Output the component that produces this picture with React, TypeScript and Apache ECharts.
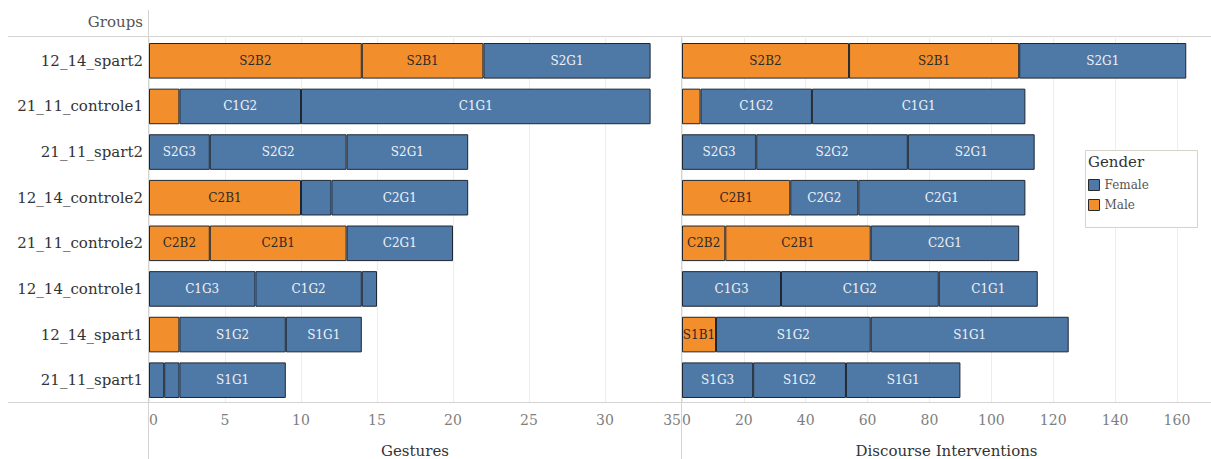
import React, { useEffect, useRef } from "react";
import * as echarts from "echarts";

// Groups (top to bottom)
const groups = [
  "12_14_spart2",
  "21_11_controle1",
  "21_11_spart2",
  "12_14_controle2",
  "21_11_controle2",
  "12_14_controle1",
  "12_14_spart1",
  "21_11_spart1",
];

// Student codes for each stacked segment, left to right (B = boy, G = girl)
const segmentNames = [
  ["S2B2", "S2B1", "S2G1"],
  ["C1B1", "C1G2", "C1G1"],
  ["S2G3", "S2G2", "S2G1"],
  ["C2B1", "C2G2", "C2G1"],
  ["C2B2", "C2B1", "C2G1"],
  ["C1G3", "C1G2", "C1G1"],
  ["S1B1", "S1G2", "S1G1"],
  ["S1G3", "S1G2", "S1G1"],
];

const gestures = [
  [14, 8, 11],
  [2, 8, 23],
  [4, 9, 8],
  [10, 2, 9],
  [4, 9, 7],
  [7, 7, 1],
  [2, 7, 5],
  [1, 1, 7],
];

const discourse = [
  [54, 55, 54],
  [6, 36, 69],
  [24, 49, 41],
  [35, 22, 54],
  [14, 47, 48],
  [32, 51, 32],
  [11, 50, 64],
  [23, 30, 37],
];

const panelTitles = ["Gestures", "Discourse Interventions"];
const panelMax = [35, 171];
const panelInterval = [5, 20];
// segments narrower than this (in axis units) stay unlabeled
const panelMinLabel = [3, 8];

const FEMALE = "#4e79a7";
const MALE = "#f28e2b";
const FONT = "DejaVu Serif";

const isMale = (code: string) => code.includes("B");

export default function App() {
  const ref = useRef<HTMLDivElement>(null);

  useEffect(() => {
    if (!ref.current) return;
    const chart = echarts.init(ref.current, null, { renderer: "svg" });

    const panels = [gestures, discourse];
    const series: any[] = [];
    panels.forEach((values, p) => {
      for (let s = 0; s < 3; s++) {
        series.push({
          type: "bar",
          xAxisIndex: p,
          yAxisIndex: p,
          stack: "panel" + p,
          barCategoryGap: "22%",
          data: groups.map((_, i) => {
            const code = segmentNames[i][s];
            const male = isMale(code);
            return {
              value: values[i][s],
              itemStyle: {
                color: male ? MALE : FEMALE,
                borderColor: "#1e2630",
                borderWidth: 1,
              },
              label: {
                show: values[i][s] >= panelMinLabel[p],
                color: male ? "#2a2a2a" : "#eef1f5",
              },
            };
          }),
          label: {
            position: "inside",
            fontFamily: FONT,
            fontSize: 12,
            formatter: (prm: any) => segmentNames[prm.dataIndex][s],
          },
        });
      }
    });

    // legend-only series, sharing the first stack so they take no bar slot
    series.push(
      { name: "Female", type: "bar", stack: "panel0", xAxisIndex: 0, yAxisIndex: 0, data: [], itemStyle: { color: FEMALE } },
      { name: "Male", type: "bar", stack: "panel0", xAxisIndex: 0, yAxisIndex: 0, data: [], itemStyle: { color: MALE } }
    );

    const lineColor = "#d4d4d4";

    chart.setOption({
      animation: false,
      textStyle: { fontFamily: FONT },
      grid: [
        { left: 149, width: 532, top: 38, bottom: 56, outerBoundsMode: "none" },
        { left: 682, width: 529, top: 38, bottom: 56, outerBoundsMode: "none" },
      ],
      xAxis: [0, 1].map((p) => ({
        type: "value",
        gridIndex: p,
        min: 0,
        max: panelMax[p],
        interval: panelInterval[p],
        axisLine: { show: false },
        axisTick: { show: false },
        splitLine: { show: true, lineStyle: { color: "#ededed", width: 1 } },
        axisLabel: {
          color: "#7e7e7e",
          fontFamily: FONT,
          fontSize: 14,
          margin: 10,
          alignMinLabel: "left",
          alignMaxLabel: "right",
          showMaxLabel: p === 0,
        },
        name: panelTitles[p],
        nameLocation: "middle",
        nameGap: 40,
        nameTextStyle: { color: "#333", fontFamily: FONT, fontSize: 15 },
      })),
      yAxis: [0, 1].map((p) => ({
        type: "category",
        gridIndex: p,
        inverse: true,
        data: groups,
        axisLine: { show: false },
        axisTick: { show: false },
        splitLine: { show: false },
        axisLabel: {
          show: p === 0,
          color: "#333",
          fontFamily: FONT,
          fontSize: 15,
          margin: 6,
        },
      })),
      legend: {
        data: ["Female", "Male"],
        orient: "vertical",
        left: 1088,
        top: 179,
        padding: 0,
        itemWidth: 11,
        itemHeight: 11,
        itemGap: 8,
        icon: "rect",
        z: 20,
        itemStyle: { borderColor: "#2a2a2a", borderWidth: 1 },
        textStyle: { color: "#555", fontFamily: FONT, fontSize: 12 },
      },
      graphic: [
        { type: "line", shape: { x1: 8, y1: 36.5, x2: 1211, y2: 36.5 }, style: { stroke: lineColor, lineWidth: 1 }, z: 5 },
        { type: "line", shape: { x1: 8, y1: 402.5, x2: 1211, y2: 402.5 }, style: { stroke: lineColor, lineWidth: 1 }, z: 5 },
        { type: "line", shape: { x1: 148.5, y1: 10, x2: 148.5, y2: 459 }, style: { stroke: lineColor, lineWidth: 1 }, z: 5 },
        { type: "line", shape: { x1: 681.5, y1: 36, x2: 681.5, y2: 459 }, style: { stroke: lineColor, lineWidth: 1 }, z: 5 },
        {
          type: "text",
          x: 143,
          y: 22,
          style: { text: "Groups", fill: "#555", font: `15px "${FONT}"`, align: "right", verticalAlign: "middle" },
        },
        {
          type: "rect",
          shape: { x: 1085.5, y: 150.5, width: 112, height: 77 },
          style: { fill: "#fff", stroke: "#d6d3c9", lineWidth: 1 },
          z: 10,
        },
        {
          type: "text",
          x: 1088,
          y: 162,
          z: 11,
          style: { text: "Gender", fill: "#333", font: `15px "${FONT}"`, align: "left", verticalAlign: "middle" },
        },
      ],
      series,
    });

    return () => chart.dispose();
  }, []);

  return (
    <div
      ref={ref}
      style={{ position: "fixed", left: 0, top: 0, width: 1211, height: 459, background: "#fff" }}
    />
  );
}
